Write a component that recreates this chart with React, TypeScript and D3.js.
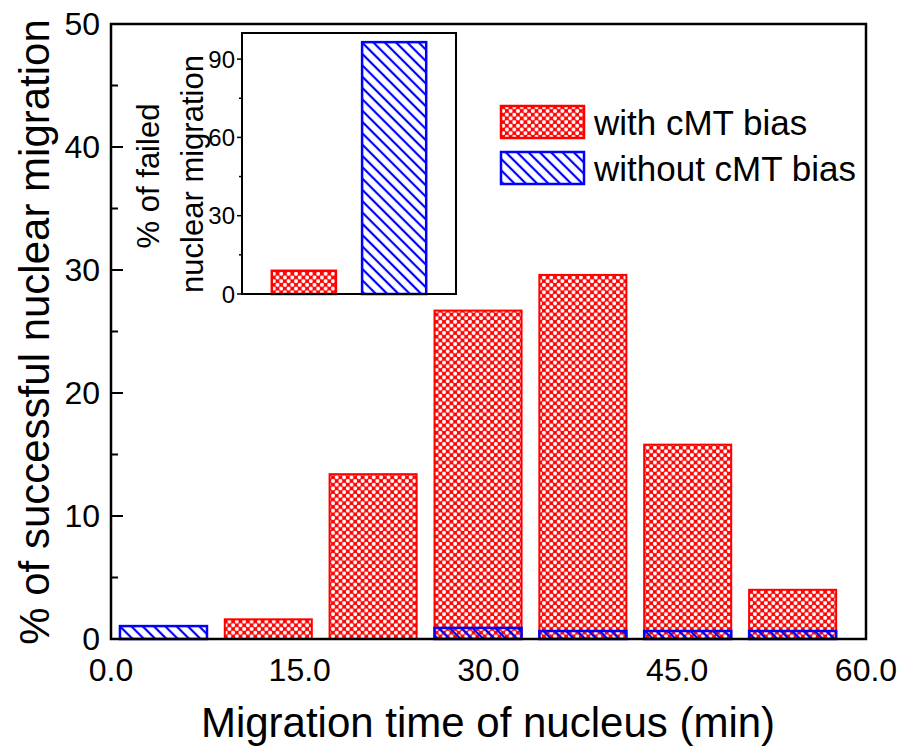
import React, { useRef, useEffect } from "react";
import * as d3 from "d3";

// bin centres (min), one bin is 60/7.2 min wide
const binCenters = [4.17, 12.5, 20.83, 29.17, 37.5, 45.83, 54.17];
const binWidth = 60 / 7.2;
const withBias = [0, 1.6, 13.4, 26.7, 29.6, 15.8, 4.0];
const withoutBias = [1.05, 0, 0, 0.9, 0.65, 0.65, 0.65];

const xTicks = [0, 15, 30, 45, 60];
const yTicks = [0, 10, 20, 30, 40, 50];

// inset: failed migrations
const insetCats = ["with cMT bias", "without cMT bias"];
const insetValues = [8.9, 96.5];
const insetTicks = [0, 30, 60, 90];

const FONT = "'Liberation Sans', Arial, Helvetica, sans-serif";

const App = () => {
    const svgRef = useRef<SVGSVGElement | null>(null);

    useEffect(() => {
        const width = 904;
        const height = 748;
        const svg = d3.select(svgRef.current);
        svg.selectAll("*").remove();

        const defs = svg.append("defs");

        // red cross hatch: red with white holes
        const red = defs.append("pattern")
            .attr("id", "redHatch")
            .attr("patternUnits", "userSpaceOnUse")
            .attr("width", 7.4)
            .attr("height", 7.4);
        red.append("rect").attr("width", 7.4).attr("height", 7.4).attr("fill", "#ff0000");
        [[0, 0], [7.4, 0], [0, 7.4], [7.4, 7.4], [3.7, 3.7]].forEach(([cx, cy]) => {
            red.append("circle").attr("cx", cx).attr("cy", cy).attr("r", 2).attr("fill", "#fff");
        });

        // blue diagonal lines, transparent in between
        const blue = defs.append("pattern")
            .attr("id", "blueHatch")
            .attr("patternUnits", "userSpaceOnUse")
            .attr("width", 8)
            .attr("height", 8)
            .attr("patternTransform", "rotate(-45)");
        blue.append("line")
            .attr("x1", 2).attr("y1", 0).attr("x2", 2).attr("y2", 8)
            .attr("stroke", "#0000ff").attr("stroke-width", 2.2);

        const blueWhite = defs.append("pattern")
            .attr("id", "blueHatchWhite")
            .attr("patternUnits", "userSpaceOnUse")
            .attr("width", 8)
            .attr("height", 8)
            .attr("patternTransform", "rotate(-45)");
        blueWhite.append("rect").attr("width", 8).attr("height", 8).attr("fill", "#fff");
        blueWhite.append("line")
            .attr("x1", 2).attr("y1", 0).attr("x2", 2).attr("y2", 8)
            .attr("stroke", "#0000ff").attr("stroke-width", 2.2);

        // main plot
        const x = d3.scaleLinear().domain([0, 60]).range([111, 866]);
        const y = d3.scaleLinear().domain([0, 50]).range([639, 24]);

        const g = svg.append("g");

        // ticks (inward) go under the bars
        const xMinor = d3.range(7.5, 60, 15);
        g.selectAll(".xt").data(xTicks).enter().append("line")
            .attr("x1", d => x(d)).attr("x2", d => x(d))
            .attr("y1", y(0)).attr("y2", y(0) - 12)
            .attr("stroke", "#000").attr("stroke-width", 2);
        g.selectAll(".xm").data(xMinor).enter().append("line")
            .attr("x1", d => x(d)).attr("x2", d => x(d))
            .attr("y1", y(0)).attr("y2", y(0) - 7)
            .attr("stroke", "#000").attr("stroke-width", 2);
        const yMinor = d3.range(5, 50, 10);
        g.selectAll(".yt").data(yTicks).enter().append("line")
            .attr("x1", x(0)).attr("x2", x(0) + 12)
            .attr("y1", d => y(d)).attr("y2", d => y(d))
            .attr("stroke", "#000").attr("stroke-width", 2);
        g.selectAll(".ym").data(yMinor).enter().append("line")
            .attr("x1", x(0)).attr("x2", x(0) + 7)
            .attr("y1", d => y(d)).attr("y2", d => y(d))
            .attr("stroke", "#000").attr("stroke-width", 2);

        const barW = binWidth * 0.83;

        withBias.forEach((v, i) => {
            if (v <= 0) return;
            g.append("rect")
                .attr("x", x(binCenters[i] - barW / 2))
                .attr("width", x(barW) - x(0))
                .attr("y", y(v))
                .attr("height", y(0) - y(v))
                .attr("fill", "url(#redHatch)")
                .attr("stroke", "#ff0000")
                .attr("stroke-width", 2);
        });

        withoutBias.forEach((v, i) => {
            if (v <= 0) return;
            const onRed = withBias[i] > 0;
            g.append("rect")
                .attr("x", x(binCenters[i] - barW / 2))
                .attr("width", x(barW) - x(0))
                .attr("y", y(v))
                .attr("height", y(0) - y(v))
                .attr("fill", onRed ? "url(#blueHatch)" : "url(#blueHatchWhite)")
                .attr("stroke", "#0000ff")
                .attr("stroke-width", 2.5);
        });

        // frame
        g.append("rect")
            .attr("x", x(0)).attr("y", y(50))
            .attr("width", x(60) - x(0)).attr("height", y(0) - y(50))
            .attr("fill", "none").attr("stroke", "#000").attr("stroke-width", 2.5);

        g.selectAll(".xl").data(xTicks).enter().append("text")
            .attr("x", d => x(d)).attr("y", 681)
            .attr("text-anchor", "middle")
            .style("font-family", FONT).style("font-size", "32px")
            .text(d => d3.format(".1f")(d));

        g.selectAll(".yl").data(yTicks).enter().append("text")
            .attr("x", 100).attr("y", d => y(d)).attr("dy", "0.34em")
            .attr("text-anchor", "end")
            .style("font-family", FONT).style("font-size", "32px")
            .text(d => d);

        g.append("text")
            .attr("x", 488).attr("y", 737)
            .attr("text-anchor", "middle")
            .style("font-family", FONT).style("font-size", "42px")
            .text("Migration time of nucleus (min)");

        g.append("text")
            .attr("transform", "translate(49,332) rotate(-90)")
            .attr("text-anchor", "middle")
            .style("font-family", FONT).style("font-size", "42px")
            .text("% of successful nuclear migration");

        // legend
        const legend = [
            { label: "with cMT bias", fill: "url(#redHatch)", stroke: "#ff0000", y: 106 },
            { label: "without cMT bias", fill: "url(#blueHatchWhite)", stroke: "#0000ff", y: 152 }
        ];
        const lg = g.selectAll(".lg").data(legend).enter().append("g");
        lg.append("rect")
            .attr("x", 501).attr("y", d => d.y)
            .attr("width", 83).attr("height", 32)
            .attr("fill", d => d.fill).attr("stroke", d => d.stroke).attr("stroke-width", 2.5);
        lg.append("text")
            .attr("x", 594).attr("y", d => d.y + 29)
            .style("font-family", FONT).style("font-size", "35px")
            .text(d => d.label);

        // inset
        const ix = d3.scaleBand().domain(insetCats).range([242, 456]).paddingInner(0.29).paddingOuter(0.33);
        const iy = d3.scaleLinear().domain([0, 100]).range([294, 33]);
        const inset = svg.append("g");
        inset.append("rect")
            .attr("x", 242).attr("y", iy(100))
            .attr("width", 456 - 242).attr("height", iy(0) - iy(100))
            .attr("fill", "#fff");
        inset.selectAll(".ib").data(insetValues).enter().append("rect")
            .attr("x", (d, i) => ix(insetCats[i]) as number)
            .attr("width", ix.bandwidth())
            .attr("y", d => iy(d))
            .attr("height", d => iy(0) - iy(d))
            .attr("fill", (d, i) => i === 0 ? "url(#redHatch)" : "url(#blueHatchWhite)")
            .attr("stroke", (d, i) => i === 0 ? "#ff0000" : "#0000ff")
            .attr("stroke-width", 2.5);
        inset.append("rect")
            .attr("x", 242).attr("y", iy(100))
            .attr("width", 456 - 242).attr("height", iy(0) - iy(100))
            .attr("fill", "none").attr("stroke", "#000").attr("stroke-width", 2);
        inset.selectAll(".it").data(insetTicks).enter().append("line")
            .attr("x1", 242).attr("x2", 237)
            .attr("y1", d => iy(d)).attr("y2", d => iy(d))
            .attr("stroke", "#000").attr("stroke-width", 1.5);
        inset.selectAll(".im").data([15, 45, 75]).enter().append("line")
            .attr("x1", 242).attr("x2", 239)
            .attr("y1", d => iy(d)).attr("y2", d => iy(d))
            .attr("stroke", "#000").attr("stroke-width", 1.5);
        inset.selectAll(".itl").data(insetTicks).enter().append("text")
            .attr("x", 235).attr("y", d => iy(d)).attr("dy", "0.36em")
            .attr("text-anchor", "end")
            .style("font-family", FONT).style("font-size", "24px")
            .text(d => d);
        inset.append("text")
            .attr("transform", "translate(159,176) rotate(-90)")
            .attr("text-anchor", "middle")
            .style("font-family", FONT).style("font-size", "31px")
            .text("% of failed");
        inset.append("text")
            .attr("transform", "translate(203,174) rotate(-90)")
            .attr("text-anchor", "middle")
            .style("font-family", FONT).style("font-size", "31px")
            .text("nuclear migration");

        svg.attr("width", width).attr("height", height);
    }, []);

    return (
        <svg
            ref={svgRef}
            width={904}
            height={748}
            style={{ position: "absolute", left: 0, top: 0, background: "#fff" }}
        />
    );
};

export default App;
